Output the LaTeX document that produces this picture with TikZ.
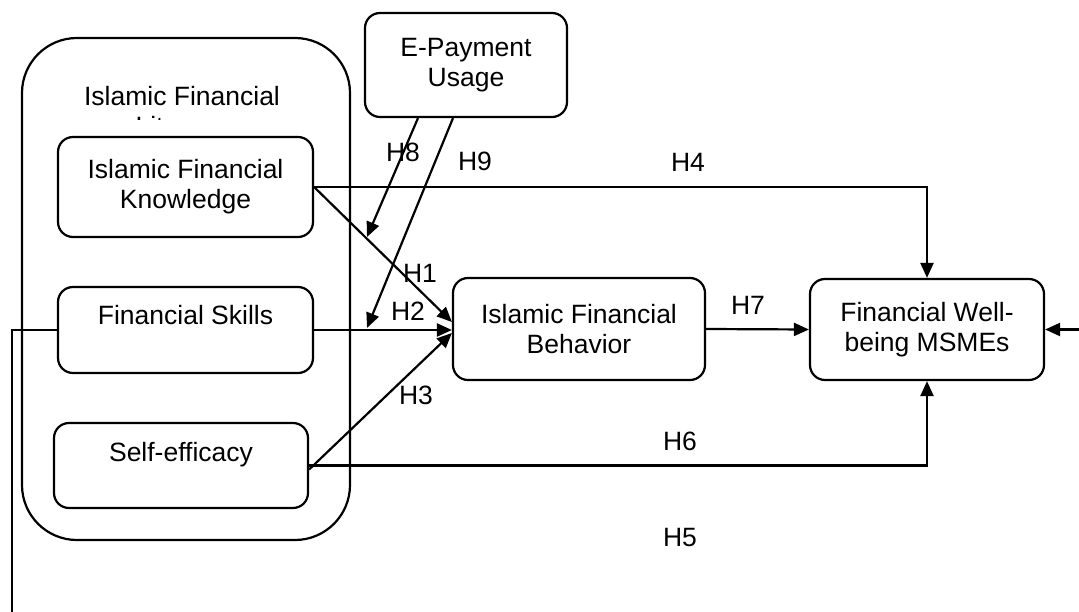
\documentclass[tikz,border=0pt]{standalone}
\usepackage{fontspec}
\setmainfont{Liberation Sans}
\usetikzlibrary{arrows.meta,calc}
\begin{document}
\begin{tikzpicture}[x=1pt,y=-1pt,
  every node/.style={font=\fontsize{26.5}{30}\selectfont, align=center, inner sep=0pt},
  box/.style={draw, line width=2.2pt, rounded corners=15pt},
  conn/.style={line width=2.2pt},
  arr/.style={conn, -{Triangle[length=15pt,width=13pt]}},
  hlab/.style={}]
\useasboundingbox (0,0) rectangle (1079,612);
% outer group
\node[box, rounded corners=55pt, minimum width=328pt, minimum height=502pt] (ifl) at (186,289) {};
\begin{scope}
  \clip (30,60) rectangle (345,119.5);
  \node (iflt) at (182,114) {Islamic Financial\\Literacy};
\end{scope}
% boxes
\node[box, minimum width=202pt, minimum height=104pt] (ep) at (466,65) {E-Payment\\Usage};
\node[box, minimum width=255pt, minimum height=100pt] (ifk) at (185.5,187) {Islamic Financial\\Knowledge};
\node[box, minimum width=255pt, minimum height=86pt] (fs) at (185.5,330) {Financial Skills\\[-8pt] \strut};
\node[box, minimum width=254pt, minimum height=85pt] (se) at (181,465.5) {Self-efficacy\\[-12pt] \strut};
\node[box, minimum width=252pt, minimum height=102pt] (ifb) at (579,329) {Islamic Financial\\Behavior};
\node[box, minimum width=234pt, minimum height=101pt] (fwb) at (927,329.5) {Financial Well-\\being MSMEs};
% coordinates
\coordinate (h8tip) at (367,237);
\coordinate (h9tip) at (367,328);
\coordinate (rin) at (1079,329.5);
\coordinate (lend) at (12,612);
% connectors
\draw[arr] (ifk.east) -- (ifk.east -| fwb.north) -- (fwb.north);
\draw[arr] (ifk.east) -- ($(ifb.west)+(0,-7)$);
\draw[arr] (fs.east) -- (fs.east -| ifb.west);
\draw[arr] ($(se.east)+(0,4)$) -- ($(ifb.west)+(0,4)$);
\draw[arr] (se.east) -- (se.east -| fwb.south) -- (fwb.south);
\draw[arr] (ifb.east) -- (fwb.west);
\draw[arr] (rin) -- (fwb.east);
\draw[conn] (fs.west) -| (lend);
\draw[arr] ($(ep.south)+(-48,0)$) -- (h8tip);
\draw[arr] ($(ep.south)+(-13,0)$) -- (h9tip);
% labels
\node[hlab] (lh1) at (420,273) {H1};
\node[hlab] (lh2) at (408,311) {H2};
\node[hlab] (lh3) at (416,395) {H3};
\node[hlab] (lh4) at (688,162) {H4};
\node[hlab] (lh5) at (680,538) {H5};
\node[hlab] (lh6) at (680,441) {H6};
\node[hlab] (lh7) at (748,305) {H7};
\node[hlab] (lh8) at (403,152) {H8};
\node[hlab] (lh9) at (475,161) {H9};
\end{tikzpicture}
\end{document}
